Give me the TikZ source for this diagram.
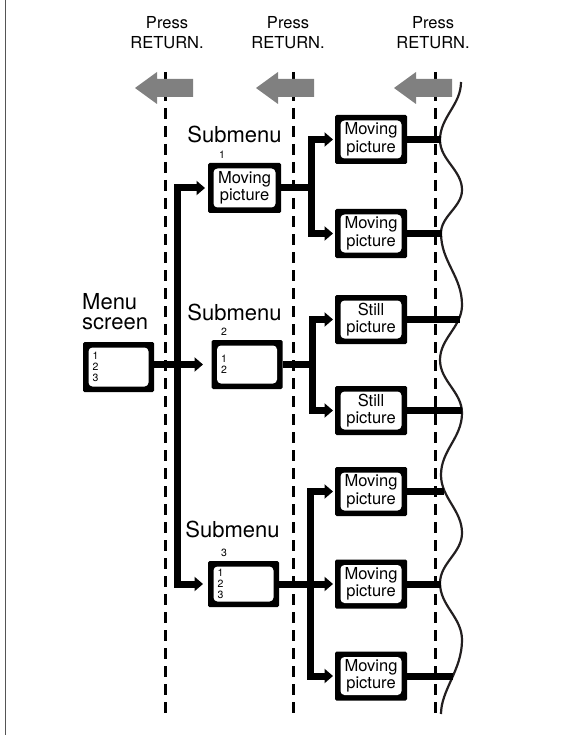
\documentclass[tikz,border=0pt]{standalone}
\usepackage{fontspec}
\setmainfont{TeX Gyre Heros}
\usetikzlibrary{arrows.meta}
\definecolor{arrowgray}{HTML}{808080}
\definecolor{waveblack}{HTML}{231F20}
\definecolor{bordergray}{HTML}{555555}
\begin{document}
\begin{tikzpicture}[x=1pt,y=-1pt,
  box/.style={fill=black, rounded corners=1.5pt, inner sep=0pt, outer sep=0pt,
    path picture={\fill[white, rounded corners=4pt]
      ([shift={(5.5pt,5.5pt)}]path picture bounding box.south west) rectangle
      ([shift={(-5.5pt,-5.5pt)}]path picture bounding box.north east);}},
  pbox/.style={box, minimum width=72pt, minimum height=49pt, align=center,
    font=\fontsize{16.5}{17.5}\selectfont},
  lbox/.style={box, align=left, inner xsep=9.5pt, text width=52pt,
    minimum width=71pt, minimum height=50pt, font=\fontsize{10.5}{11.2}\selectfont},
  biglbl/.style={font=\fontsize{22}{20}\selectfont, inner sep=0pt},
  smalllbl/.style={font=\fontsize{10.5}{11}\selectfont, inner sep=0pt},
  presslbl/.style={font=\fontsize{16.5}{20}\selectfont, align=center, inner sep=0pt},
  conn/.style={line width=7pt, line join=miter, draw=black},
  tip/.tip={Triangle[length=8.5pt,width=14pt]},
  dashln/.style={line width=3pt, dash pattern=on 11pt off 7pt},
  wave/.style={draw=waveblack, line width=2.2pt}
]
\fill[white] (0,0) rectangle (574,735);
\useasboundingbox (0,0) rectangle (574,735);
\draw[bordergray, line width=1.2pt] (5.5,0) -- (5.5,735);

% Press RETURN labels
\node[presslbl] (p1) at (167,33) {Press\\RETURN.};
\node[presslbl] (p2) at (288,33) {Press\\RETURN.};
\node[presslbl] (p3) at (433,33) {Press\\RETURN.};

% dashed lines
\draw[dashln] (165,72) -- (165,716);
\draw[dashln] (293,72) -- (293,716);
\draw[dashln] (435,72) -- (435,716);

% grey return arrows
\fill[arrowgray] (135,88) -- (157,72) -- (157,79) -- (193,79) -- (193,97) -- (157,97) -- (157,104) -- cycle;
\fill[arrowgray] (256,88) -- (278,72) -- (278,79) -- (314,79) -- (314,97) -- (278,97) -- (278,104) -- cycle;
\fill[arrowgray] (394,88) -- (416,72) -- (416,79) -- (452,79) -- (452,97) -- (416,97) -- (416,104) -- cycle;

% wavy cut line
\draw[wave] (461,82) .. controls (461,105) and (440,117) .. (440,140)
  .. controls (440,160) and (462,170) .. (462,190)
  .. controls (462,207) and (441,216) .. (441,233)
  .. controls (441,262) and (462,276) .. (462,305)
  .. controls (462,327) and (440,338) .. (440,360)
  .. controls (440,381) and (462,392) .. (462,413)
  .. controls (462,438) and (441,450) .. (441,475)
  .. controls (441,498) and (462,510) .. (462,533)
  .. controls (462,553) and (440,563) .. (440,583)
  .. controls (440,606) and (462,617) .. (462,640)
  .. controls (462,670) and (441,690) .. (441,714);

% labels
\node[biglbl, align=left, anchor=west] (menulbl) at (82,312) {Menu\\screen};
\node[biglbl] (sl1) at (234.5,134) {Submenu};
\node[biglbl] (sl2) at (234.5,312) {Submenu};
\node[biglbl] (sl3) at (232.5,529) {Submenu};
\node[smalllbl] (n1) at (222,155) {1};
\node[smalllbl] (n2) at (224,332) {2};
\node[smalllbl] (n3) at (224,553) {3};

% boxes
\node[lbox] (menu) at (118.5,367) {1\\2\\3};
\node[pbox, minimum width=73pt, minimum height=50pt] (sub1) at (244.5,188) {Moving\\picture};
\node[lbox, minimum height=49pt] (sub2) at (247,364.5) {1\\2};
\node[lbox, minimum height=46pt] (sub3) at (243.5,584) {1\\2\\3};

\node[pbox] (m1) at (371,139.5) {Moving\\picture};
\node[pbox] (m2) at (371,233.5) {Moving\\picture};
\node[pbox] (s1) at (371,319.5) {Still\\picture};
\node[pbox] (s2) at (371,410.5) {Still\\picture};
\node[pbox] (a) at (371,491.5) {Moving\\picture};
\node[pbox] (b) at (371,584) {Moving\\picture};
\node[pbox] (c) at (371,676) {Moving\\picture};

% junction coordinates
\coordinate (t1a) at (177,188);
\coordinate (t1b) at (177,584);
\coordinate (j1) at (311.5,188);
\coordinate (t2a) at (311.5,139.5);
\coordinate (t2b) at (311.5,233.5);
\coordinate (j2) at (312,364.5);
\coordinate (t3a) at (312,319.5);
\coordinate (t3b) at (312,410.5);
\coordinate (t4a) at (310,491.5);
\coordinate (t4b) at (310,676);
% wave end points
\coordinate (w1) at (441,139.5);
\coordinate (w2) at (441.5,233.5);
\coordinate (w3) at (459.5,319.5);
\coordinate (w4) at (462,410.5);
\coordinate (w5) at (444,491.5);
\coordinate (w6) at (441,584);
\coordinate (w7) at (453,676);

% connectors
\draw[conn, tip-tip] ([xshift=-3pt]sub1.west) -- (t1a) -- (t1b) -- ([xshift=-5pt]sub3.west);
\draw[conn, -tip] (sub2.west -| menu.east) -- ([xshift=-8.5pt]sub2.west);

\draw[conn] (sub1.east) -- (j1);
\draw[conn, tip-tip] ([xshift=-2pt]m1.west) -- (t2a) -- (t2b) -- ([xshift=-2pt]m2.west);
\draw[conn] (sub2.east) -- (j2);
\draw[conn, tip-tip] ([xshift=-2pt]s1.west) -- (t3a) -- (t3b) -- ([xshift=-2pt]s2.west);
\draw[conn, -tip] (sub3.east) -- ([xshift=-2pt]b.west);
\draw[conn, tip-tip] ([xshift=-2pt]a.west) -- (t4a) -- (t4b) -- ([xshift=-2pt]c.west);

\draw[conn] (m1.east) -- (w1);
\draw[conn] (m2.east) -- (w2);
\draw[conn] (s1.east) -- (w3);
\draw[conn] (s2.east) -- (w4);
\draw[conn] (a.east) -- (w5);
\draw[conn] (b.east) -- (w6);
\draw[conn] (c.east) -- (w7);
\end{tikzpicture}
\end{document}
